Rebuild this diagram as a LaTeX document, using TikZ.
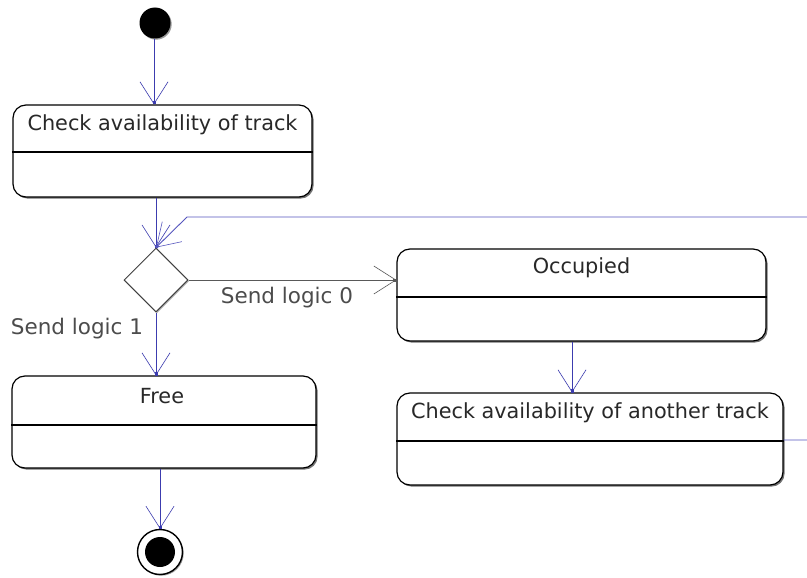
\documentclass[tikz,border=0pt]{standalone}
\usepackage{fontspec}
\setmainfont{DejaVu Sans}
\usetikzlibrary{arrows.meta,shapes.geometric,shadows}
\definecolor{conn}{RGB}{60,60,175}
\definecolor{connlight}{RGB}{85,85,190}
\definecolor{txt}{RGB}{40,40,40}
\tikzset{
  statebox/.style={draw=black, line width=1.2pt, rounded corners=13pt, fill=white,
    drop shadow={shadow xshift=1.6pt, shadow yshift=-1.6pt, fill=black!55, opacity=1},
    inner sep=0pt, minimum height=92pt},
  title/.style={font=\fontsize{20.8}{24}\selectfont, text=txt, inner sep=0pt},
  lbl/.style={font=\fontsize{21.5}{24}\selectfont, text=black!70, inner sep=0pt},
  divider/.style={draw=black, line width=1.2pt},
  tipa/.style={-{Straight Barb[length=22pt,width=28pt,line width=0.6pt,sep=-3pt] Square[length=3pt,width=3pt]}},
  flow/.style={draw=conn, line width=0.9pt, tipa},
  flowback/.style={draw=connlight, line width=0.9pt, tipa},
  flowdark/.style={draw=black!65, line width=1pt, tipa},
  choice/.style={diamond, draw=black!75, line width=1pt, fill=white, aspect=1,
    minimum width=64pt, minimum height=64pt, inner sep=0pt,
    drop shadow={shadow xshift=1.2pt, shadow yshift=-1.2pt, fill=black!30, opacity=1}},
  initst/.style={circle, fill=black, minimum size=31pt, inner sep=0pt,
    drop shadow={shadow xshift=1.2pt, shadow yshift=-1.2pt, fill=black!40, opacity=1}},
  finalst/.style={circle, draw=black, line width=1.4pt, fill=white, minimum size=45pt, inner sep=0pt,
    drop shadow={shadow xshift=1.2pt, shadow yshift=-1.2pt, fill=black!40, opacity=1}},
  finaldot/.style={circle, fill=black, minimum size=30pt, inner sep=0pt}
}
\begin{document}
\begin{tikzpicture}[x=1pt,y=-1pt]
\clip (0,0) rectangle (807,578);
\fill[white] (0,0) rectangle (807,578);

% initial state
\node[initst] (init) at (155,23) {};

% states
\node[statebox, minimum width=299pt] (b1) at (162.5,151) {};
\node[title] (b1t) at (162.5,125) {Check availability of track};
\draw[divider] (b1.west |- 0,152) -- (b1.east |- 0,152);

\node[choice] (dia) at (156,280) {};

\node[statebox, minimum width=369pt] (occ) at (581.5,295) {};
\node[title] (occt) at (581.5,268) {Occupied};
\draw[divider] (occ.west |- 0,297) -- (occ.east |- 0,297);

\node[statebox, minimum width=386pt] (chk) at (590,439) {};
\node[title] (chkt) at (590,413) {Check availability of another track};
\draw[divider] (chk.west |- 0,441) -- (chk.east |- 0,441);

\node[statebox, minimum width=304pt] (free) at (164,422) {};
\node[title] (freet) at (162,396) {Free};
\draw[divider] (free.west |- 0,425) -- (free.east |- 0,425);

\node[finalst] (fin) at (160,552) {};
\node[finaldot] (findot) at (160,552) {};

% labels
\node[lbl] (l0) at (287,298) {Send logic 0};
\node[lbl] (l1) at (77,329) {Send logic 1};

% connectors
\coordinate (c1) at (154,0);
\draw[flow] (init.south -| c1) -- (b1.north -| c1);
\draw[flow] (b1.south -| dia.north) -- (dia.north);
\coordinate (r1) at (830,440);
\coordinate (r2) at (830,217);
\coordinate (r3) at (187,217);
\draw[flowback] (chk.east |- r1) -- (r1) -- (r2) -- (r3) -- (dia.north);
\draw[flowdark] (dia.east) -- (occ.west |- dia.east);
\draw[flow] (dia.south) -- (free.north -| dia.south);
\coordinate (c2) at (572,0);
\draw[flow] (occ.south -| c2) -- (chk.north -| c2);
\draw[flow] (free.south -| fin.north) -- (fin.north);
\end{tikzpicture}
\end{document}
